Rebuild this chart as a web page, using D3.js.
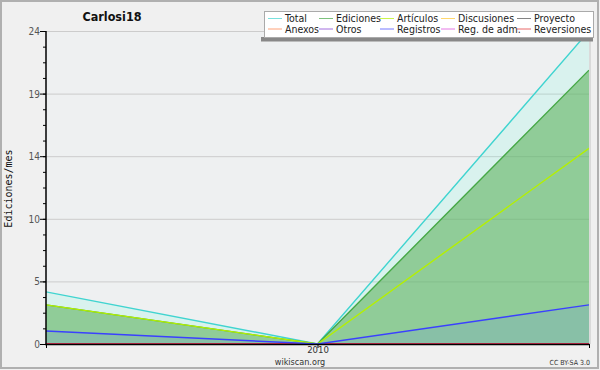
<!DOCTYPE html>
<html lang="es">
<head>
<meta charset="UTF-8">
<script src="https://cdn.jsdelivr.net/npm/d3@7"></script>
<title>Carlosi18</title>
<style>
  body { margin: 0; background: #f0f0f0; }
  svg text { font-family: "DejaVu Sans Condensed", "DejaVu Sans", sans-serif; }
</style>
</head>
<body>
<script>
// monthly edits, Dec 2009 - Feb 2010
const months = ["2009-12-01", "2010-01-01", "2010-02-01"];
const total       = [4, 0, 24];
const ediciones   = [3, 0, 21];
const articulos   = [3, 0, 15];
const discusiones = [0, 0, 0];
const proyecto    = [0, 0, 0];
const anexos      = [0, 0, 0];
const otros       = [0, 0, 0];
const registros   = [1, 0, 3];
const regAdm      = [0, 0, 0];
const reversiones = [0, 0, 0];

const yTickValues = [0, 4.8, 9.6, 14.4, 19.2, 24];
const xTickLabels = ["2010"];

const series = [
  {name: "Total",        values: total,       color: "#40d4d0", fill: "rgb(100,255,220)", fillOp: 0.15},
  {name: "Anexos",       values: anexos,      color: "#ff7a40"},
  {name: "Ediciones",    values: ediciones,   color: "#46a846", fill: "rgb(95,179,95)", fillOp: 0.6},
  {name: "Otros",        values: otros,       color: "#7a30d0"},
  {name: "Artículos",    values: articulos,   color: "#b4f000"},
  {name: "Registros",    values: registros,   color: "#3a40ff", fill: "rgb(104,144,232)", fillOp: 0.2},
  {name: "Discusiones",  values: discusiones, color: "#ffc830"},
  {name: "Reg. de adm.", values: regAdm,      color: "#d840d8"},
  {name: "Proyecto",     values: proyecto,    color: "#505050"},
  {name: "Reversiones",  values: reversiones, color: "#e02828"}
];

const W = 600, H = 370;
const m = {left: 46, right: 589, top: 31, bottom: 344};

const svg = d3.select("body").append("svg")
  .attr("width", W).attr("height", H);

svg.append("rect").attr("x", 1).attr("y", 1).attr("width", W - 3).attr("height", H - 3)
  .attr("fill", "#f0f0f0").attr("stroke", "#b0b0b0").attr("stroke-width", 2);

const dates = months.map(d => new Date(d + "T00:00:00"));
const x = d3.scaleTime().domain(d3.extent(dates)).range([m.left, m.right]);
const y = d3.scaleLinear().domain([0, 24]).range([m.bottom, m.top]);

// plot background
svg.append("rect").attr("x", m.left).attr("y", m.top)
  .attr("width", m.right - m.left).attr("height", m.bottom - m.top)
  .attr("fill", "#eef0f1");
svg.append("line").attr("x1", m.right + 1).attr("x2", m.right + 1)
  .attr("y1", m.top).attr("y2", m.bottom).attr("stroke", "#c4c4c4");

// grid
svg.append("g").selectAll("line").data(yTickValues.slice(1)).join("line")
  .attr("x1", m.left).attr("x2", m.right)
  .attr("y1", d => y(d) + 0.5).attr("y2", d => y(d) + 0.5)
  .attr("stroke", "#cccccc");

svg.append("clipPath").attr("id", "clip").append("rect")
  .attr("x", m.left).attr("y", m.top - 1)
  .attr("width", m.right - m.left).attr("height", m.bottom - m.top + 1);

const plot = svg.append("g").attr("clip-path", "url(#clip)");

const area = d3.area().x((d, i) => x(dates[i])).y0(y(0)).y1(d => y(d));
const line = d3.line().x((d, i) => x(dates[i])).y(d => y(d));

["Total", "Ediciones", "Registros"].forEach(n => {
  const s = series.find(s => s.name === n);
  plot.append("path").attr("d", area(s.values))
    .attr("fill", s.fill).attr("fill-opacity", s.fillOp);
});

const lineOrder = ["Discusiones", "Proyecto", "Anexos", "Otros", "Reg. de adm.", "Reversiones",
                   "Total", "Ediciones", "Artículos", "Registros"];
lineOrder.forEach(n => {
  const s = series.find(s => s.name === n);
  plot.append("path").attr("d", line(s.values))
    .attr("fill", "none").attr("stroke", s.color).attr("stroke-width", 1.4);
});

// y axis
const yAxis = svg.append("g").attr("transform", `translate(${m.left},0)`);
yAxis.call(d3.axisLeft(y).tickValues(d3.range(0, 24.01, 1.2)).tickSize(3).tickFormat(""))
  .call(g => g.select(".domain").remove());
yAxis.append("g").call(d3.axisLeft(y).tickValues(yTickValues).tickSize(6).tickFormat(d3.format(".0f")))
  .call(g => g.select(".domain").remove())
  .call(g => g.selectAll("text").attr("fill", "#555").attr("font-size", 10)
    .attr("x", -6).attr("dy", "0.35em")
    .style("font-family", '"DejaVu Sans Condensed", "DejaVu Sans", sans-serif'));
yAxis.selectAll("line").attr("stroke", "#000");
yAxis.append("line").attr("x1", 0).attr("x2", 0).attr("y1", m.top).attr("y2", m.bottom + 1)
  .attr("stroke", "#000").attr("stroke-width", 1.5);

// x axis
const xAxis = svg.append("g").attr("transform", `translate(0,${m.bottom})`);
xAxis.call(d3.axisBottom(x).tickValues(dates).tickSize(4)
    .tickFormat(d => {
      const yr = d3.timeFormat("%Y")(d);
      return d.getMonth() === 0 && xTickLabels.includes(yr) ? yr : "";
    }))
  .call(g => g.select(".domain").remove())
  .call(g => g.selectAll("line").attr("stroke", "#000"))
  .call(g => g.selectAll("text").attr("fill", "#333").attr("font-size", 9.5).attr("y", 2.5)
    .style("font-family", '"DejaVu Sans Condensed", "DejaVu Sans", sans-serif'));
xAxis.append("line").attr("x1", m.left - 1).attr("x2", m.right + 0.5).attr("y1", 0.5).attr("y2", 0.5)
  .attr("stroke", "#000").attr("stroke-width", 1.5);

// titles
svg.append("text").attr("x", 112).attr("y", 21).attr("text-anchor", "middle")
  .attr("font-size", 12.5).attr("font-weight", "bold").attr("fill", "#111").text("Carlosi18");

svg.append("text").attr("transform", `translate(12,${(m.top + m.bottom) / 2 + 1}) rotate(-90)`)
  .attr("text-anchor", "middle").attr("font-size", 10).attr("fill", "#111")
  .style("font-family", '"DejaVu Sans Mono", monospace').text("Ediciones/mes");

svg.append("text").attr("x", 300).attr("y", 365).attr("text-anchor", "middle")
  .attr("font-size", 9).attr("fill", "#333").text("wikiscan.org");
svg.append("text").attr("x", 590).attr("y", 365).attr("text-anchor", "end")
  .attr("font-size", 7).attr("fill", "#333").text("CC BY-SA 3.0");

// legend
const leg = svg.append("g");
leg.append("rect").attr("x", 261).attr("y", 37).attr("width", 332).attr("height", 4.5).attr("fill", "#888");
leg.append("rect").attr("x", 264.5).attr("y", 11.5).attr("width", 329).attr("height", 26)
  .attr("fill", "#fff").attr("stroke", "#aaa");
const colX = [268, 319, 380, 441, 517];
series.forEach((s, i) => {
  const c = Math.floor(i / 2), r = i % 2;
  const g = leg.append("g").attr("transform", `translate(${colX[c]},${18.5 + r * 10.5})`);
  g.append("line").attr("x1", 0).attr("x2", 14).attr("y1", 0).attr("y2", 0)
    .attr("stroke", s.color).attr("stroke-opacity", 0.7);
  g.append("text").attr("x", 17).attr("y", 3.5).attr("font-size", 10.5).attr("fill", "#222").text(s.name);
});
</script>
</body>
</html>
